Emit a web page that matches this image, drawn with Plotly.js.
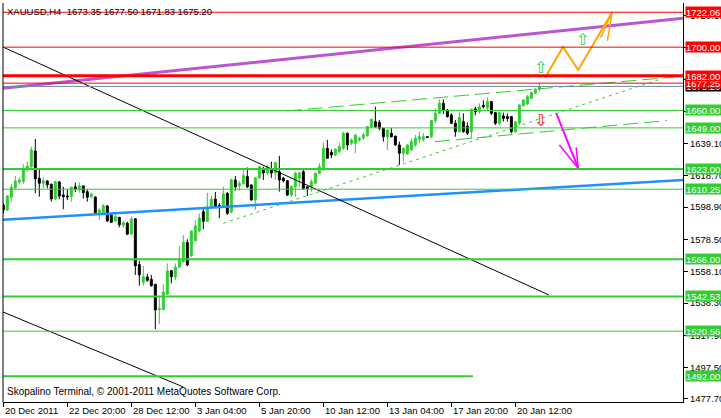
<!DOCTYPE html>
<html><head><meta charset="utf-8">
<script src="https://cdn.plot.ly/plotly-3.0.1.min.js"></script>
<style>html,body{margin:0;padding:0;background:#fff;overflow:hidden}#c{width:721px;height:418px}</style>
</head><body><div id="c"></div>
<script>
// ---------------- DATA ----------------
const chartTitle = "XAUUSD,H4  1673.35 1677.50 1671.83 1675.20";
const footerText = "Skopalino Terminal, \u00A9 2001-2011 MetaQuotes Software Corp.";

const open = [1600.3,1597.1,1605.2,1611.2,1614.8,1615.0,1622.4,1624.5,1634.4,1617.2,
1614.0,1615.5,1613.4,1604.1,1614.8,1606.6,1606.0,1605.5,1611.7,1609.8,
1612.3,1608.7,1605.5,1605.3,1595.4,1595.4,1599.7,1594.0,1590.2,1592.5,
1587.5,1588.7,1581.9,1591.6,1562.6,1551.4,1554.8,1553.3,1550.2,1534.1,
1534.1,1543.9,1558.8,1554.8,1561.1,1564.5,1576.5,1568.1,1577.7,1584.0,
1596.0,1590.0,1599.0,1604.0,1600.0,1599.0,1607.5,1596.0,1616.1,1612.5,
1613.6,1618.2,1612.9,1603.5,1617.4,1623.0,1620.5,1623.0,1620.5,1621.3,
1617.2,1615.6,1606.6,1611.8,1617.2,1621.3,1611.8,1611.8,1614.0,1620.3,
1622.4,1636.1,1633.6,1631.9,1634.0,1636.1,1645.6,1639.3,1639.3,1641.4,
1642.6,1644.0,1649.4,1653.0,1652.5,1648.8,1643.4,1645.6,1643.8,1638.2,
1633.0,1632.5,1635.0,1638.2,1641.8,1641.8,1643.4,1643.4,1653.6,1658.2,
1664.5,1660.3,1657.2,1651.9,1646.6,1652.9,1650.0,1646.6,1661.0,1659.2,
1663.2,1661.6,1665.6,1658.6,1651.9,1656.5,1656.1,1656.1,1646.6,1652.0,
1663.0,1664.1,1667.7,1670.9,1673.35];
const high = [1601.5,1606.6,1613.6,1618.6,1617.8,1626.0,1627.7,1637.1,1642.0,1623.0,
1617.8,1616.0,1613.8,1615.5,1615.5,1611.8,1610.2,1611.8,1614.4,1614.6,
1612.5,1610.2,1608.1,1605.8,1598.2,1600.9,1600.2,1594.4,1594.6,1592.5,
1590.2,1589.7,1593.1,1591.6,1564.9,1561.7,1556.7,1556.1,1550.2,1543.0,
1550.2,1563.4,1558.8,1563.4,1574.4,1581.3,1578.6,1584.0,1590.8,1595.0,
1599.0,1608.0,1606.0,1608.5,1601.5,1611.8,1608.5,1617.0,1618.6,1615.5,
1622.4,1624.0,1613.4,1618.0,1625.0,1624.5,1625.5,1627.7,1627.7,1631.3,
1618.0,1616.0,1612.9,1621.3,1621.3,1622.4,1611.8,1616.5,1621.0,1626.6,
1639.7,1641.4,1635.5,1636.0,1639.7,1646.6,1646.0,1642.4,1645.2,1643.4,
1646.0,1650.3,1655.0,1662.4,1654.0,1649.0,1648.0,1648.8,1644.0,1640.3,
1636.5,1638.5,1642.4,1644.5,1646.6,1645.6,1643.8,1654.0,1661.4,1667.0,
1667.0,1660.8,1658.2,1654.0,1659.2,1658.2,1652.5,1661.0,1662.4,1664.5,
1666.4,1668.3,1666.0,1659.0,1659.2,1658.6,1658.2,1656.5,1653.2,1663.8,
1667.0,1669.8,1672.0,1674.0,1677.50];
const low = [1595.0,1596.7,1602.4,1609.8,1613.6,1613.6,1621.3,1623.5,1607.7,1605.5,
1610.8,1610.8,1602.4,1603.4,1603.9,1597.6,1603.4,1602.4,1608.5,1608.1,
1604.3,1602.4,1604.5,1594.6,1590.8,1594.8,1589.5,1589.1,1589.3,1586.2,
1586.0,1581.3,1581.3,1556.1,1549.3,1549.3,1551.8,1548.7,1521.9,1525.1,
1534.0,1543.4,1550.8,1552.9,1560.3,1563.8,1561.7,1567.6,1577.2,1583.0,
1585.0,1589.5,1598.5,1599.0,1592.0,1598.5,1594.0,1595.0,1609.3,1609.3,
1613.4,1611.0,1603.0,1597.1,1616.5,1616.1,1619.5,1617.4,1616.1,1608.7,
1614.5,1606.0,1605.2,1605.5,1611.8,1609.8,1605.9,1608.7,1613.5,1619.8,
1622.0,1629.5,1629.8,1631.2,1632.9,1635.0,1635.0,1638.2,1633.0,1640.3,
1641.4,1643.5,1649.0,1649.0,1647.5,1640.3,1635.0,1643.0,1637.6,1625.6,
1627.7,1632.0,1634.5,1637.1,1639.3,1640.3,1642.5,1642.4,1652.0,1657.8,
1657.8,1655.5,1651.5,1643.4,1646.0,1646.0,1644.5,1642.0,1657.0,1658.0,
1661.2,1660.3,1657.2,1650.8,1650.8,1653.0,1653.0,1645.6,1646.0,1650.8,
1662.4,1663.5,1667.0,1670.5,1671.83];
const close = [1597.1,1606.0,1611.5,1615.5,1616.1,1622.8,1624.9,1635.0,1616.9,1614.0,
1615.5,1613.0,1604.1,1615.0,1606.0,1605.6,1605.5,1611.5,1610.4,1612.5,
1608.1,1605.2,1607.2,1595.4,1597.1,1599.8,1590.2,1589.3,1592.9,1587.8,
1589.1,1581.8,1591.4,1561.9,1556.1,1555.0,1552.7,1549.3,1534.0,1535.0,
1545.3,1558.6,1555.0,1561.1,1565.5,1576.5,1562.4,1583.9,1587.0,1592.0,
1590.0,1599.0,1604.0,1599.5,1599.0,1607.2,1595.0,1616.1,1611.7,1614.0,
1618.8,1611.7,1603.5,1617.4,1624.5,1620.5,1624.5,1620.5,1627.0,1616.1,
1615.6,1606.6,1611.8,1620.5,1620.5,1610.8,1610.8,1615.0,1620.3,1624.5,
1636.1,1629.8,1631.9,1635.5,1637.1,1645.6,1638.2,1641.4,1644.5,1642.4,
1644.6,1649.8,1654.4,1649.8,1648.8,1643.4,1647.7,1643.4,1638.2,1633.0,
1636.1,1638.2,1640.3,1642.4,1643.4,1643.4,1643.0,1653.6,1658.2,1664.5,
1660.3,1656.1,1651.9,1646.6,1655.7,1646.6,1645.6,1660.8,1659.2,1662.4,
1662.4,1665.6,1658.2,1651.9,1658.6,1655.0,1655.0,1646.6,1652.9,1663.5,
1666.6,1668.7,1671.2,1673.4,1675.20];

const xTickBars = [0,16,32,48,64,80,96,112,128];
const xTickLabels = ["20 Dec 2011","22 Dec 20:00","28 Dec 12:00","3 Jan 04:00","5 Jan 20:00","10 Jan 12:00","13 Jan 04:00","17 Jan 20:00","20 Jan 12:00"];
const yTickVals = [1477.70,1497.50,1517.90,1538.30,1558.10,1578.50,1598.90,1618.70,1639.10,1659.50,1679.30,1699.70,1720.10];

// horizontal price levels
const levelPrices = [1722.06,1700.00,1682.00,1677.25,1660.00,1649.00,1623.00,1610.25,1566.00,1542.53,1520.56];
const bidPrice = 1675.20;
// level segment (start bar, end bar, price)
const segBars = [-0.1, 117.4];
const segPrice = 1492.00;

// trend lines: [[bar0, bar1], [price0, price1]]
const purpleLine = [[-0.1, 169.9], [1674.0, 1718.3]];
const blueLine   = [[-0.1, 169.9], [1591.0, 1616.1]];
const blackLine1 = [[-0.1, 136.4], [1700.1, 1543.4]];
const blackLine2 = [[-0.1, 45.0],  [1532.7, 1485.3]];
const dashShort  = [[55.0, 164.2], [1588.7, 1679.8]];
const dashUpper  = [[70.85, 167.9], [1659.7, 1681.2]];
const dashLower  = [[107.9, 165.85],[1640.3, 1653.6]];
// projection paths
const orangeBars   = [135.4, 139.9, 143.7, 152.2];
const orangePrices = [1680.5, 1700.1, 1685.6, 1722.2];
const orangeHeadBars   = [149.3, 152.2, 151.0];
const orangeHeadPrices = [1706.0, 1722.2, 1704.0];
const magentaBars   = [138.2, 143.7];
const magentaPrices = [1658.4, 1623.5];
const magentaHeadBars   = [139.0, 143.7, 143.2];
const magentaHeadPrices = [1638.2, 1623.5, 1636.7];
// signal arrows: bar, price
const upArrowBars = [134.2, 144.9];
const upArrowPrices = [1686.9, 1704.6];
const downArrowBars = [134.4];
const downArrowPrices = [1653.4];

// ---------------- STYLE ----------------
const GREEN = '#32CD32';
const RED = '#FF0000';
const levelColors = [RED,RED,RED,RED,GREEN,GREEN,GREEN,GREEN,GREEN,GREEN,GREEN];
const levelWidths = [1,1,3,1,1,1,2,1,2,2,1];
const FONT = 'Liberation Sans, Arial, sans-serif';
const FS = 9.5;

const bars = open.map((_, i) => i);

const traces = [];
function lineTrace(xs, ys, color, width, dash) {
  traces.push({type:'scatter', mode:'lines', x:xs, y:ys, hoverinfo:'skip', showlegend:false,
    line:{color:color, width:width, dash:dash||'solid'}});
}

traces.push({
  type:'candlestick', x:bars, open:open, high:high, low:low, close:close,
  increasing:{line:{color:GREEN, width:1}, fillcolor:GREEN},
  decreasing:{line:{color:'#000000', width:1}, fillcolor:'#000000'},
  whiskerwidth:0, hoverinfo:'skip', showlegend:false
});

// horizontal levels
const shapes = [];
levelPrices.forEach((p, k) => {
  shapes.push({type:'line', xref:'paper', x0:0, x1:1, yref:'y', y0:p, y1:p,
    line:{color:levelColors[k], width:levelWidths[k]}, layer:'above'});
});
shapes.push({type:'line', xref:'paper', x0:0, x1:1, yref:'y', y0:bidPrice, y1:bidPrice,
  line:{color:'#778899', width:1}, layer:'above'});
shapes.push({type:'line', xref:'x', x0:segBars[0], x1:segBars[1], yref:'y', y0:segPrice, y1:segPrice,
  line:{color:GREEN, width:2}, layer:'above'});
// left frame line
shapes.push({type:'line', xref:'paper', x0:0, x1:0, yref:'paper', y0:0, y1:1,
  line:{color:'#000', width:1}, layer:'above'});

lineTrace(purpleLine[0], purpleLine[1], '#BA55D3', 3);
lineTrace(blueLine[0], blueLine[1], '#1E90FF', 2.5);
lineTrace(blackLine1[0], blackLine1[1], '#000000', 1);
lineTrace(blackLine2[0], blackLine2[1], '#000000', 1);
lineTrace(dashShort[0], dashShort[1], GREEN, 1, '3px,4px');
lineTrace(dashUpper[0], dashUpper[1], GREEN, 1, '15px,6px');
lineTrace(dashLower[0], dashLower[1], GREEN, 1, '15px,6px');
lineTrace(orangeBars, orangePrices, '#FFA500', 2);
lineTrace(orangeHeadBars, orangeHeadPrices, '#FFA500', 1.5);
lineTrace(magentaBars, magentaPrices, '#FF00FF', 2);
lineTrace(magentaHeadBars, magentaHeadPrices, '#FF00FF', 1.5);

// annotations
const annotations = [];
annotations.push({xref:'paper', yref:'paper', x:0, y:1, xanchor:'left', yanchor:'top', xshift:2, yshift:-1,
  text:chartTitle, showarrow:false, font:{family:FONT, size:FS, color:'#000'}});
annotations.push({xref:'paper', yref:'paper', x:0, y:0, xanchor:'left', yanchor:'bottom', xshift:2, yshift:3,
  text:footerText, showarrow:false, font:{family:FONT, size:10, color:'#000'}});

// x axis labels, left-aligned just right of each tick
xTickBars.forEach((b, k) => annotations.push({xref:'x', yref:'paper', x:b, y:0, xanchor:'left', yanchor:'top',
  xshift:0, yshift:-1, text:xTickLabels[k], showarrow:false, font:{family:FONT, size:FS, color:'#000'}}));

function priceBox(p, color) {
  annotations.push({xref:'paper', yref:'y', x:1, y:p, xanchor:'left', yanchor:'middle', xshift:2,
    text:p.toFixed(2), showarrow:false, bgcolor:color, borderpad:0, width:42, height:10, align:'left',
    font:{family:FONT, size:FS, color:'#fff'}});
}
priceBox(bidPrice, '#000000');
const order = levelPrices.map((p,k)=>k).sort((a,b)=>levelPrices[a]-levelPrices[b]);
order.forEach(k => priceBox(levelPrices[k], levelColors[k]));
priceBox(segPrice, GREEN);

upArrowBars.forEach((b, k) => annotations.push({xref:'x', yref:'y', x:b, y:upArrowPrices[k], text:'\u21E7',
  showarrow:false, font:{family:'DejaVu Sans', size:16, color:GREEN}}));
downArrowBars.forEach((b, k) => annotations.push({xref:'x', yref:'y', x:b, y:downArrowPrices[k], text:'\u21E9',
  showarrow:false, font:{family:'DejaVu Sans', size:16, color:RED}}));

const layout = {
  width:721, height:418,
  margin:{l:3, r:38, t:3, b:16},
  paper_bgcolor:'#fff', plot_bgcolor:'#fff',
  showlegend:false,
  xaxis:{range:[-0.075, 169.9], showgrid:false, zeroline:false, rangeslider:{visible:false},
    showline:true, linecolor:'#000', linewidth:1,
    tickmode:'array', tickvals:xTickBars, showticklabels:false,
    ticks:'outside', ticklen:4, tickcolor:'#000', tickwidth:1},
  yaxis:{range:[1475.8, 1727.9], side:'right', showgrid:false, zeroline:false,
    showline:true, linecolor:'#000', linewidth:1,
    tickmode:'array', tickvals:yTickVals, ticktext:yTickVals.map(v=>v.toFixed(2)),
    ticks:'outside', ticklen:4, tickcolor:'#000', tickwidth:1,
    tickfont:{family:FONT, size:FS, color:'#000'}},
  boxgap:0.3,
  shapes:shapes,
  annotations:annotations
};

Plotly.newPlot('c', traces, layout, {staticPlot:true, displayModeBar:false});
</script>
</body></html>
